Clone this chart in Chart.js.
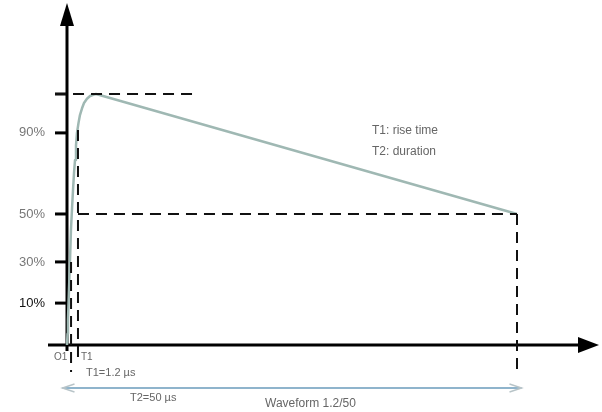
<!DOCTYPE html>
<html>
<head>
<meta charset="utf-8">
<script src="https://cdn.jsdelivr.net/npm/chart.js@4"></script>
<style>
  body { margin: 0; background: #fff; }
  canvas { display: block; }
</style>
</head>
<body>
<canvas id="surgeChart" width="602" height="412"></canvas>
<script>
// time in microseconds, value in % of peak (diagram is schematic, not to scale)
const waveTime  = [0, 0.06, 0.11, 0.22, 0.33, 0.44, 0.56, 0.67, 0.78, 0.89, 1.0, 1.11, 1.28, 1.44, 1.67, 1.89, 2.22, 2.56, 3.0, 3.22, 50];
const waveValue = [0, 4.5, 10.0, 21.9, 33.1, 45.8, 54.5, 61.8, 68.5, 73.7, 79.5, 84.5, 88.5, 91.6, 94.3, 96.4, 98.1, 99.2, 99.8, 100, 52.2];

// y tick marks drawn on the left of the axis
const tickValues = [100, 84.5, 52.2, 33.1, 16.7];
const tickLabels = ['', '90%', '50%', '30%', '10%'];

// dashed guide lines [x1, y1, x2, y2]
const peakGuide  = [-1.33, 100, 13.9, 100];
const halfGuide  = [1.22, 52.2, 50, 52.2];
const t2Guide    = [50, 52.2, 50, -11.9];
const t30Guide   = [0.45, 33.1, 0.45, -10.8];
const t90Guide   = [1.22, 85.7, 1.22, -6.8];

const noteLines = ['T1: rise time', 'T2: duration'];
const t1Label = 'T1=1.2 µs';
const t2Label = 'T2=50 µs';
const waveLabel = 'Waveform 1.2/50';

const guideSet = (g) => ({
  data: [{ x: g[0], y: g[1] }, { x: g[2], y: g[3] }],
  showLine: true, borderColor: '#111', borderWidth: 2,
  borderDash: [11, 7], pointRadius: 0
});

const drawingPlugin = {
  id: 'drawing',
  beforeDatasetsDraw(chart) {
    const ctx = chart.ctx, xs = chart.scales.x, ys = chart.scales.y;
    const x0 = xs.getPixelForValue(0), y0 = ys.getPixelForValue(0);
    ctx.save();
    ctx.strokeStyle = '#000'; ctx.fillStyle = '#000'; ctx.lineWidth = 3;
    // y axis with arrow
    ctx.beginPath(); ctx.moveTo(x0, y0 + 6); ctx.lineTo(x0, 20); ctx.stroke();
    ctx.beginPath(); ctx.moveTo(x0, 3); ctx.lineTo(x0 - 7, 26); ctx.lineTo(x0 + 7, 26); ctx.closePath(); ctx.fill();
    // x axis with arrow
    ctx.beginPath(); ctx.moveTo(48, y0); ctx.lineTo(585, y0); ctx.stroke();
    ctx.beginPath(); ctx.moveTo(599, y0); ctx.lineTo(578, y0 - 8); ctx.lineTo(578, y0 + 8); ctx.closePath(); ctx.fill();
    // ticks and labels
    ctx.font = '13px "Liberation Sans", Arial, sans-serif';
    ctx.textAlign = 'right'; ctx.textBaseline = 'middle';
    tickValues.forEach((v, i) => {
      const py = ys.getPixelForValue(v);
      ctx.lineWidth = 3;
      ctx.beginPath(); ctx.moveTo(x0 - 12, py); ctx.lineTo(x0, py); ctx.stroke();
      ctx.fillStyle = i === 4 ? '#111' : '#777';
      ctx.fillText(tickLabels[i], x0 - 22, py);
    });
    ctx.restore();
  },
  afterDatasetsDraw(chart) {
    const ctx = chart.ctx, xs = chart.scales.x;
    ctx.save();
    ctx.font = '12px "Liberation Sans", Arial, sans-serif';
    ctx.fillStyle = '#666'; ctx.textBaseline = 'middle'; ctx.textAlign = 'left';
    noteLines.forEach((t, i) => ctx.fillText(t, 372, 131 + i * 21));
    ctx.font = '10px "Liberation Sans", Arial, sans-serif';
    ctx.fillText('O1', 54, 357);
    ctx.fillText('T1', 81, 357);
    ctx.font = '11px "Liberation Sans", Arial, sans-serif';
    ctx.fillText(t1Label, 86, 373);
    ctx.fillText(t2Label, 130, 398);
    ctx.font = '12px "Liberation Sans", Arial, sans-serif';
    ctx.fillText(waveLabel, 265, 404);
    // T2 double arrow
    const ax1 = xs.getPixelForValue(-0.5), ax2 = xs.getPixelForValue(50.5), ay = 388;
    ctx.strokeStyle = '#8fb4cc'; ctx.lineWidth = 2;
    ctx.beginPath(); ctx.moveTo(ax1, ay); ctx.lineTo(ax2, ay); ctx.stroke();
    ctx.strokeStyle = '#b8c4c8'; ctx.lineWidth = 1.5;
    ctx.beginPath(); ctx.moveTo(ax1 + 12, ay - 4); ctx.lineTo(ax1, ay); ctx.lineTo(ax1 + 12, ay + 4); ctx.stroke();
    ctx.beginPath(); ctx.moveTo(ax2 - 12, ay - 4); ctx.lineTo(ax2, ay); ctx.lineTo(ax2 - 12, ay + 4); ctx.stroke();
    ctx.restore();
  }
};

new Chart(document.getElementById('surgeChart').getContext('2d'), {
  type: 'scatter',
  data: {
    datasets: [
      guideSet(peakGuide), guideSet(halfGuide), guideSet(t2Guide),
      guideSet(t30Guide), guideSet(t90Guide),
      {
        data: waveTime.map((t, i) => ({ x: t, y: waveValue[i] })),
        showLine: true, borderColor: '#9fb8b3', borderWidth: 2.5,
        pointRadius: 0, tension: 0, borderJoinStyle: 'round'
      }
    ]
  },
  options: {
    responsive: false,
    animation: false,
    layout: { padding: 0 },
    plugins: { legend: { display: false }, tooltip: { enabled: false } },
    scales: {
      x: { type: 'linear', display: false, min: -7.444, max: 59.444 },
      y: { type: 'linear', display: false, min: -26.69, max: 137.45 }
    }
  },
  plugins: [drawingPlugin]
});
</script>
</body>
</html>
